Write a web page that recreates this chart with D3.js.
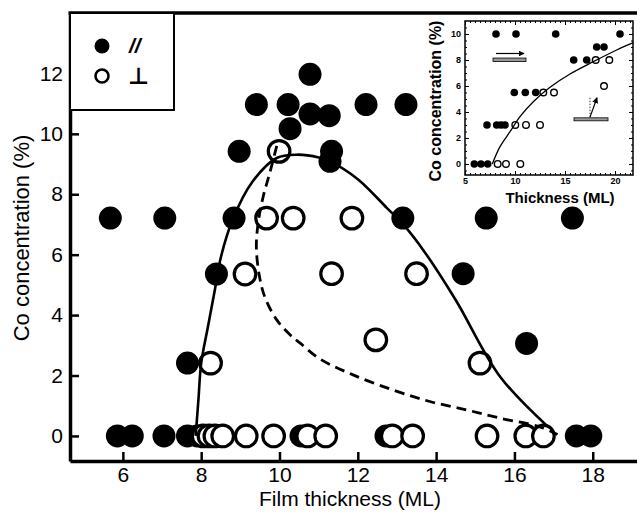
<!DOCTYPE html>
<head>
  <meta charset="utf-8">
  <script src="https://d3js.org/d3.v7.min.js"></script>
  <style>
  body,html {margin:0; background:#fff; font-family:"Liberation Sans", Arial, sans-serif;}
  svg {display:block;}
  .tick text {font-family:"Liberation Sans", Arial, sans-serif;}
  </style>
</head>

<body>
  <script>

    const width = 637, height = 513;

    // main chart data: [thickness ML, Co %]
    const parallel = [
      [5.68,7.21],[7.07,7.21],[8.84,7.21],[13.15,7.21],[15.28,7.21],[17.48,7.21],
      [8.39,5.36],[7.65,2.41],[14.69,5.37],[16.31,3.06],
      [8.97,9.42],[11.33,9.42],[11.29,9.09],
      [9.41,10.97],[10.22,10.97],[12.21,10.97],[13.23,10.97],
      [10.78,10.66],[11.27,10.6],[10.27,10.17],[10.78,11.97],
      [5.86,0],[6.24,0],[7.05,0],[7.65,0],[7.9,0],[10.55,0],[12.72,0],[17.58,0],[17.95,0]
    ];
    const perpendicular = [
      [9.99,9.42],[9.67,7.21],[10.35,7.21],[11.85,7.21],
      [9.12,5.36],[11.33,5.37],[13.5,5.37],
      [8.24,2.41],[12.46,3.18],[15.12,2.41],
      [8.05,0],[8.2,0],[8.35,0],[8.55,0],[9.15,0],[9.85,0],[10.72,0],[11.18,0],
      [12.88,0],[13.4,0],[15.3,0],[16.29,0],[16.74,0]
    ];
    const solidCurve = [
      [7.86,0],[7.93,1.2],[8.0,2.4],[8.17,3.6],[8.35,4.84],[8.5,5.9],[8.82,7.21],[9.3,8.4],[9.93,9.2],
      [10.44,9.31],[11.0,9.22],[11.29,9.09],[12.0,8.5],[12.74,7.55],[13.16,7.0],
      [13.7,6.1],[14.5,4.5],[15.63,1.97],[16.86,0.3]
    ];
    const dashedCurve = [
      [9.93,9.6],[9.75,8.7],[9.58,7.9],[9.45,7.0],[9.41,6.2],[9.5,5.2],[9.64,4.55],
      [9.93,3.84],[10.27,3.35],[10.52,3.08],[11.03,2.55],[11.88,2.02],[12.9,1.52],
      [13.84,1.14],[14.78,0.86],[15.63,0.59],[16.65,0.3],[17.1,0.05]
    ];
    const xTicks = [6,8,10,12,14,16,18];
    const yTicks = [0,2,4,6,8,10,12];

    // inset data
    const insetPar = [
      [8.1,10],[10.1,10],[14.07,10],[20.5,10],
      [15.87,8],[17.17,8],[18.17,9],[18.9,9],
      [9.93,5.5],[11.03,5.5],[12.07,5.5],
      [7.2,3],[8.17,3],[8.6,3],[9.0,3],
      [5.93,0],[6.6,0],[7.27,0]
    ];
    const insetPerp = [
      [18.07,8],[19.43,8],[18.9,6],
      [12.83,5.5],[13.9,5.5],
      [10.03,3],[11.1,3],[12.5,3],
      [8.27,0],[9.1,0],[10.53,0]
    ];
    const insetCurve = [
      [7.73,0],[8.5,1.33],[9.5,2.48],[10.5,3.64],[11.83,4.79],[13.5,5.9],
      [15.5,6.92],[17.83,7.87],[20.17,8.77],[21.83,9.33]
    ];
    const insetXTicks = [5,10,15,20];
    const insetYTicks = [0,2,4,6,8,10];

    const svg = d3.select("body").append("svg")
      .attr("width", width)
      .attr("height", height);

    // SCALES
    const x = d3.scaleLinear().domain([4.65, 19.13]).range([70, 637]);
    const y = d3.scaleLinear().domain([-0.83, 14.0]).range([461, 13]);

    // AXES
    const xAxis = svg.append("g")
      .attr("transform", "translate(0," + y.range()[0] + ")")
      .call(d3.axisBottom(x).tickValues(xTicks).tickSize(-9).tickPadding(6).tickSizeOuter(0));
    const yAxis = svg.append("g")
      .attr("transform", "translate(" + x.range()[0] + ",0)")
      .call(d3.axisLeft(y).tickValues(yTicks).tickSize(-9).tickPadding(7).tickSizeOuter(0));

    [xAxis, yAxis].forEach(function(a){
      a.select(".domain").attr("stroke", "#000").attr("stroke-width", 3.5);
      a.selectAll(".tick line").attr("stroke", "#000").attr("stroke-width", 2.5);
      a.selectAll(".tick text").attr("fill", "#000").style("font-size", "21px");
    });

    // top spine
    svg.append("line")
      .attr("x1", x.range()[0] - 1.5).attr("x2", width)
      .attr("y1", y.range()[1]).attr("y2", y.range()[1])
      .attr("stroke", "#000").attr("stroke-width", 3.5);

    svg.append("text")
      .attr("x", 350).attr("y", 506)
      .attr("text-anchor", "middle")
      .style("font-size", "21px")
      .text("Film thickness (ML)");

    svg.append("text")
      .attr("transform", "translate(29,238) rotate(-90)")
      .attr("text-anchor", "middle")
      .style("font-size", "22px")
      .text("Co concentration (%)");

    // MARKS
    svg.append("g").selectAll("circle")
      .data(parallel).enter().append("circle")
      .attr("cx", d => x(d[0])).attr("cy", d => y(d[1]))
      .attr("r", 11.5).attr("fill", "#000");

    svg.append("g").selectAll("circle")
      .data(perpendicular).enter().append("circle")
      .attr("cx", d => x(d[0])).attr("cy", d => y(d[1]))
      .attr("r", 10.8).attr("fill", "#fff").attr("stroke", "#000").attr("stroke-width", 3.2);

    const line = d3.line().x(d => x(d[0])).y(d => y(d[1])).curve(d3.curveCatmullRom);

    svg.append("path").datum(solidCurve)
      .attr("d", line).attr("fill", "none")
      .attr("stroke", "#000").attr("stroke-width", 2.6);

    svg.append("path").datum(dashedCurve)
      .attr("d", line).attr("fill", "none")
      .attr("stroke", "#000").attr("stroke-width", 2.8)
      .attr("stroke-dasharray", "10,6");

    // LEGEND
    const legend = svg.append("g");
    legend.append("rect")
      .attr("x", x.range()[0]).attr("y", y.range()[1])
      .attr("width", 104).attr("height", 97)
      .attr("fill", "#fff").attr("stroke", "#000").attr("stroke-width", 2);
    legend.append("circle").attr("cx", 102).attr("cy", 46).attr("r", 7.5).attr("fill", "#000");
    legend.append("circle").attr("cx", 102).attr("cy", 76).attr("r", 6.5)
      .attr("fill", "#fff").attr("stroke", "#000").attr("stroke-width", 2.6);
    legend.append("text").attr("x", 129).attr("y", 53)
      .style("font-size", "21px").style("font-weight", "bold").style("font-style", "italic")
      .text("//");
    legend.append("text").attr("x", 128).attr("y", 84)
      .style("font-size", "23px").style("font-weight", "bold").style("font-family", "DejaVu Sans")
      .text("⊥");

    // INSET
    const ix = d3.scaleLinear().domain([5, 21.8]).range([465, 633]);
    const iy = d3.scaleLinear().domain([-0.85, 11]).range([175, 21]);
    const inset = svg.append("g");

    inset.append("rect")
      .attr("x", ix.range()[0]).attr("y", iy.range()[1])
      .attr("width", ix.range()[1] - ix.range()[0]).attr("height", iy.range()[0] - iy.range()[1])
      .attr("fill", "#fff").attr("stroke", "#000").attr("stroke-width", 1.5);

    const minorX = d3.range(5.5, 21.8, 0.5);
    const minorY = d3.range(-0.5, 11, 0.5);
    inset.append("g").attr("transform", "translate(0," + iy.range()[0] + ")")
      .call(d3.axisBottom(ix).tickValues(minorX).tickSize(-2).tickFormat("").tickSizeOuter(0));
    inset.append("g").attr("transform", "translate(0," + iy.range()[1] + ")")
      .call(d3.axisTop(ix).tickValues(minorX).tickSize(-2).tickFormat("").tickSizeOuter(0));
    inset.append("g").attr("transform", "translate(" + ix.range()[0] + ",0)")
      .call(d3.axisLeft(iy).tickValues(minorY).tickSize(-2).tickFormat("").tickSizeOuter(0));
    inset.append("g").attr("transform", "translate(" + ix.range()[1] + ",0)")
      .call(d3.axisRight(iy).tickValues(minorY).tickSize(-2).tickFormat("").tickSizeOuter(0));

    const ixAxis = inset.append("g").attr("transform", "translate(0," + iy.range()[0] + ")")
      .call(d3.axisBottom(ix).tickValues(insetXTicks).tickSize(-4).tickPadding(3).tickSizeOuter(0));
    const iyAxis = inset.append("g").attr("transform", "translate(" + ix.range()[0] + ",0)")
      .call(d3.axisLeft(iy).tickValues(insetYTicks).tickSize(-4).tickPadding(4).tickSizeOuter(0));
    inset.append("g").attr("transform", "translate(0," + iy.range()[1] + ")")
      .call(d3.axisTop(ix).tickValues(insetXTicks).tickSize(-4).tickFormat("").tickSizeOuter(0));
    inset.append("g").attr("transform", "translate(" + ix.range()[1] + ",0)")
      .call(d3.axisRight(iy).tickValues(insetYTicks).tickSize(-4).tickFormat("").tickSizeOuter(0));

    inset.selectAll(".domain").remove();
    inset.selectAll(".tick line").attr("stroke", "#000").attr("stroke-width", 1);
    [ixAxis, iyAxis].forEach(function(a){
      a.selectAll(".tick text").attr("fill", "#000")
        .style("font-size", "9px").style("font-weight", "bold");
    });

    inset.append("text")
      .attr("x", 560).attr("y", 203)
      .attr("text-anchor", "middle")
      .style("font-size", "15px").style("font-weight", "bold")
      .text("Thickness (ML)");
    inset.append("text")
      .attr("transform", "translate(441,101) rotate(-90)")
      .attr("text-anchor", "middle")
      .style("font-size", "16px").style("font-weight", "bold")
      .text("Co concentration (%)");

    inset.append("g").selectAll("circle")
      .data(insetPar).enter().append("circle")
      .attr("cx", d => ix(d[0])).attr("cy", d => iy(d[1]))
      .attr("r", 3.8).attr("fill", "#000");
    inset.append("g").selectAll("circle")
      .data(insetPerp).enter().append("circle")
      .attr("cx", d => ix(d[0])).attr("cy", d => iy(d[1]))
      .attr("r", 3.3).attr("fill", "#fff").attr("stroke", "#000").attr("stroke-width", 1.4);

    const iline = d3.line().x(d => ix(d[0])).y(d => iy(d[1])).curve(d3.curveCatmullRom);
    inset.append("path").datum(insetCurve)
      .attr("d", iline).attr("fill", "none").attr("stroke", "#000").attr("stroke-width", 1.3);

    // magnetisation sketches
    const defs = svg.append("defs");
    defs.append("marker").attr("id", "head")
      .attr("viewBox", "0 0 10 10").attr("refX", 9).attr("refY", 5)
      .attr("markerWidth", 5).attr("markerHeight", 5).attr("orient", "auto")
      .append("path").attr("d", "M0,0L10,5L0,10z").attr("fill", "#000");

    inset.append("rect")
      .attr("x", ix(7.8)).attr("y", iy(8.15))
      .attr("width", ix(11.1) - ix(7.8)).attr("height", 3.5)
      .attr("fill", "#999").attr("stroke", "#000").attr("stroke-width", 0.8);
    inset.append("line")
      .attr("x1", ix(8.1)).attr("y1", iy(8.5)).attr("x2", ix(10.9)).attr("y2", iy(8.5))
      .attr("stroke", "#000").attr("stroke-width", 1.2).attr("marker-end", "url(#head)");

    inset.append("rect")
      .attr("x", ix(15.9)).attr("y", iy(3.55))
      .attr("width", ix(19.3) - ix(15.9)).attr("height", 3)
      .attr("fill", "#999").attr("stroke", "#000").attr("stroke-width", 0.8);
    inset.append("line")
      .attr("x1", ix(17.5)).attr("y1", iy(3.6)).attr("x2", ix(17.5)).attr("y2", iy(5.1))
      .attr("stroke", "#000").attr("stroke-width", 0.8).attr("stroke-dasharray", "1.5,1.5");
    inset.append("line")
      .attr("x1", ix(17.5)).attr("y1", iy(3.6)).attr("x2", ix(18.2)).attr("y2", iy(5.1))
      .attr("stroke", "#000").attr("stroke-width", 1.2).attr("marker-end", "url(#head)");

  </script>
</body>
